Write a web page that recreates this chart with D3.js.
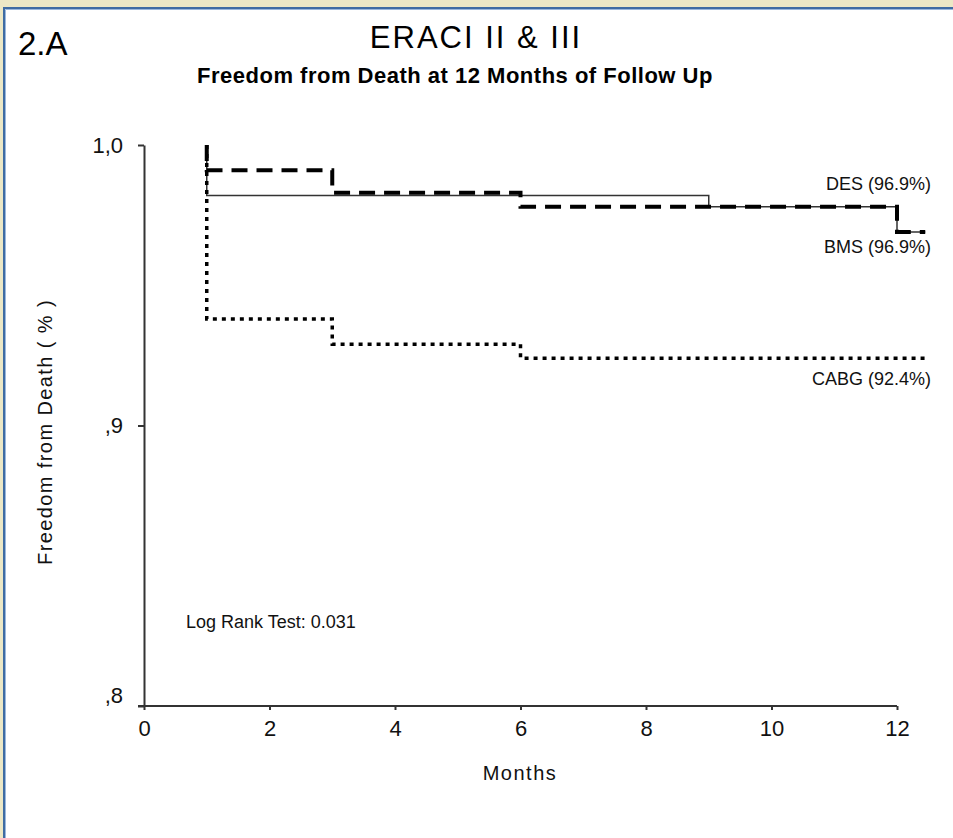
<!DOCTYPE html>
<html>
<head>
<meta charset="utf-8">
<script src="https://cdn.jsdelivr.net/npm/d3@7"></script>
<style>
  body { margin: 0; background: #ece8c6; }
  svg { display: block; font-family: "Liberation Sans", Arial, sans-serif; }
</style>
</head>
<body>
<svg id="km"></svg>
<script>
// chart data
var xTicks = [0, 2, 4, 6, 8, 10, 12];
var yTicks = [0.8, 0.9, 1.0];
var yTickLabels = [",8", ",9", "1,0"];
var endMonth = 12.45;

// event months and survival after each event
var desMonths  = [1, 9, 12];
var desValues  = [0.982, 0.978, 0.969];
var bmsMonths  = [1, 3, 6, 12];
var bmsValues  = [0.991, 0.983, 0.978, 0.969];
var cabgMonths = [1, 3, 6];
var cabgValues = [0.938, 0.929, 0.924];

var seriesNames  = ["DES (96.9%)", "BMS (96.9%)", "CABG (92.4%)"];

var W = 953, H = 838;

var svg = d3.select("#km")
    .attr("width", W)
    .attr("height", H);

// window frame
svg.append("rect")
    .attr("x", 0).attr("y", 0).attr("width", W).attr("height", H)
    .attr("fill", "#ece8c6");
svg.append("rect")
    .attr("x", 4).attr("y", 8).attr("width", W + 10).attr("height", H + 10)
    .attr("fill", "#fff")
    .attr("stroke", "#3f6ca3")
    .attr("stroke-width", 2);
svg.append("path")
    .attr("d", "M5.5," + H + "V9.5H" + W)
    .attr("fill", "none")
    .attr("stroke", "#9bb8dc")
    .attr("stroke-width", 1);

// scales
var x = d3.scaleLinear().domain([0, 12]).range([144, 897]);
var y = d3.scaleLinear().domain([0.8, 1.0]).range([706, 145]);

// step line
var step = d3.line()
    .x(function(d) { return x(d[0]); })
    .y(function(d) { return y(d[1]); })
    .curve(d3.curveStepAfter);

function points(months, values) {
  var pts = [[months[0], 1.0]];
  months.forEach(function(m, i) { pts.push([m, values[i]]); });
  pts.push([endMonth, values[values.length - 1]]);
  return pts;
}

// X axis
var gx = svg.append("g")
    .attr("transform", "translate(0,706)")
    .call(d3.axisBottom(x).tickValues(xTicks).tickSize(4).tickSizeOuter(0).tickPadding(10));
gx.select(".domain").attr("stroke", "#333").attr("stroke-width", 2)
    .attr("d", "M138,0H" + x(12));
gx.selectAll(".tick line").attr("stroke", "#333").attr("stroke-width", 2);
gx.selectAll(".tick text")
    .attr("font-size", 22).attr("fill", "#111")
    .attr("font-family", "Liberation Sans, Arial, sans-serif");

// Y axis
var gy = svg.append("g")
    .attr("transform", "translate(144,0)")
    .call(d3.axisLeft(y).tickValues(yTicks).tickSize(6).tickSizeOuter(0).tickPadding(15)
      .tickFormat(function(d, i) { return yTickLabels[i]; }));
gy.select(".domain").attr("stroke", "#333").attr("stroke-width", 2);
gy.selectAll(".tick line").attr("stroke", "#333").attr("stroke-width", 2);
gy.selectAll(".tick text")
    .attr("font-size", 22).attr("fill", "#111")
    .attr("font-family", "Liberation Sans, Arial, sans-serif");
gy.selectAll(".tick text").filter(function(d) { return d === 0.8; })
    .attr("y", -11);

// curves
svg.append("path")
    .attr("d", step(points(desMonths, desValues)))
    .attr("fill", "none").attr("stroke", "#333").attr("stroke-width", 1.5);

svg.append("path")
    .attr("d", step(points(bmsMonths, bmsValues)))
    .attr("fill", "none").attr("stroke", "#000").attr("stroke-width", 4)
    .attr("stroke-dasharray", "16,9");

svg.append("path")
    .attr("d", step(points(cabgMonths, cabgValues)))
    .attr("fill", "none").attr("stroke", "#000").attr("stroke-width", 3.5)
    .attr("stroke-dasharray", "4,5");

// curve labels
var labelY = [190, 253, 385];
svg.selectAll(".curve-label")
    .data(seriesNames)
  .enter().append("text")
    .attr("class", "curve-label")
    .attr("x", 931)
    .attr("y", function(d, i) { return labelY[i]; })
    .attr("text-anchor", "end")
    .attr("font-size", 18)
    .attr("fill", "#111")
    .text(function(d) { return d; });

svg.append("text")
    .attr("x", 186).attr("y", 628)
    .attr("font-size", 18).attr("fill", "#111")
    .text("Log Rank Test: 0.031");

// titles
svg.append("text")
    .attr("x", 18).attr("y", 55)
    .attr("font-size", 33).attr("fill", "#000")
    .text("2.A");

svg.append("text")
    .attr("x", 476).attr("y", 48)
    .attr("text-anchor", "middle")
    .attr("font-size", 31).attr("letter-spacing", 2).attr("fill", "#000")
    .text("ERACI II & III");

svg.append("text")
    .attr("x", 455).attr("y", 83)
    .attr("text-anchor", "middle")
    .attr("font-size", 22).attr("font-weight", "bold")
    .attr("letter-spacing", 0.5).attr("fill", "#000")
    .text("Freedom from Death at 12 Months of Follow Up");

// axis titles
svg.append("text")
    .attr("x", 520).attr("y", 780)
    .attr("text-anchor", "middle")
    .attr("font-size", 20).attr("letter-spacing", 1.5).attr("fill", "#111")
    .text("Months");

svg.append("text")
    .attr("transform", "translate(52,432) rotate(-90)")
    .attr("text-anchor", "middle")
    .attr("font-size", 20).attr("letter-spacing", 1.4).attr("fill", "#111")
    .text("Freedom from Death ( % )");
</script>
</body>
</html>
